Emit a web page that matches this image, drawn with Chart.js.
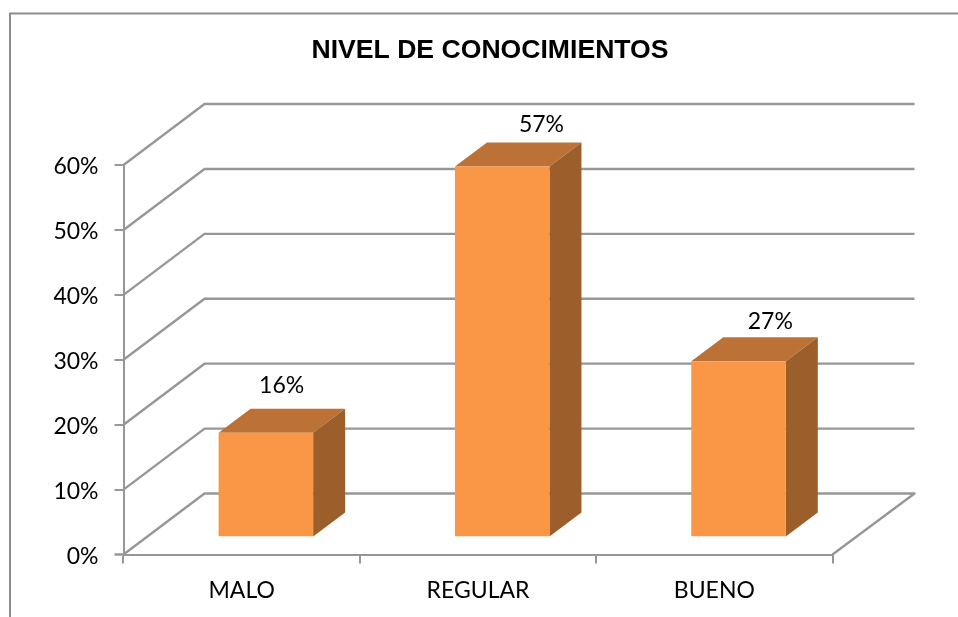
<!DOCTYPE html>
<html>
<head>
<meta charset="utf-8">
<style>
html,body{margin:0;padding:0;background:#fff;}
#wrap{position:relative;width:958px;height:617px;overflow:hidden;}
canvas{display:block;}
</style>
<script src="https://cdn.jsdelivr.net/npm/chart.js@4"></script>
</head>
<body>
<div id="wrap"><canvas id="c" width="958" height="617"></canvas></div>
<script>
const chartTitle = 'NIVEL DE CONOCIMIENTOS';
const categories = ['MALO', 'REGULAR', 'BUENO'];
const values = [16, 57, 27];
const axisMax = 60;
const axisStep = 10;

const GRID = '#979797', FRONT = '#F99746', TOP = '#BC7236', SIDE = '#9C5F2B';
const LABEL_FONT = '23px Lato, Carlito, sans-serif';
const WALL = {dx: 81, dy: -61};
const BAR_SHIFT = {dx: 24.2, dy: -18};
const BAR_DEPTH = {dx: 32, dy: -24};
const LABEL_SHIFT = [[40, -47], [63.5, -42], [56, -40]];
const TICK_LENGTH = 9;

const frame = {
  id: 'frame',
  beforeDraw(chart) {
    const c = chart.ctx;
    c.save();
    c.strokeStyle = '#8e8e8e';
    c.lineWidth = 2;
    c.beginPath();
    c.moveTo(10, chart.height);
    c.lineTo(10, 13.5);
    c.lineTo(chart.width, 13.5);
    c.stroke();
    c.restore();
  },
  afterLayout(chart) {
    chart.titleBlock.left = 22;
    chart.titleBlock.right = chart.width;
  }
};

const walls = {
  id: 'walls',
  beforeDatasetsDraw(chart) {
    const c = chart.ctx, y = chart.scales.y, a = chart.chartArea;
    c.save();
    c.strokeStyle = GRID;
    c.lineWidth = 2.4;
    c.lineJoin = 'round';
    for (let v = 0; v <= axisMax; v += axisStep) {
      const py = y.getPixelForValue(v);
      c.beginPath();
      if (v === 0) {
        c.moveTo(a.left - TICK_LENGTH, py);
      } else {
        c.moveTo(a.left, py);
      }
      if (v === 0) c.lineTo(a.left, py);
      c.lineTo(a.left + WALL.dx, py + WALL.dy);
      c.lineTo(a.right + WALL.dx + 1, py + WALL.dy);
      if (v === 0) c.lineTo(a.right, py);
      c.stroke();
    }
    c.restore();
  }
};

const bars3d = {
  id: 'bars3d',
  beforeDatasetsDraw(chart) {
    const c = chart.ctx;
    chart.getDatasetMeta(0).data.forEach(b => {
      const l = b.x - b.width / 2 + BAR_SHIFT.dx, r = b.x + b.width / 2 + BAR_SHIFT.dx;
      const t = b.y + BAR_SHIFT.dy, u = b.base + BAR_SHIFT.dy;
      const d = BAR_DEPTH;
      c.fillStyle = TOP;
      c.beginPath();
      c.moveTo(l, t); c.lineTo(l + d.dx, t + d.dy); c.lineTo(r + d.dx, t + d.dy); c.lineTo(r, t);
      c.closePath(); c.fill();
      c.fillStyle = SIDE;
      c.beginPath();
      c.moveTo(r, t); c.lineTo(r + d.dx, t + d.dy); c.lineTo(r + d.dx, u + d.dy); c.lineTo(r, u);
      c.closePath(); c.fill();
    });
    c.save();
    c.translate(BAR_SHIFT.dx, BAR_SHIFT.dy);
  },
  afterDatasetsDraw(chart) {
    const c = chart.ctx;
    c.restore();
    c.save();
    c.font = LABEL_FONT;
    c.fillStyle = '#000';
    c.textAlign = 'center';
    c.textBaseline = 'middle';
    chart.getDatasetMeta(0).data.forEach((b, i) => {
      c.fillText(values[i] + '%', b.x + LABEL_SHIFT[i][0], b.y + BAR_SHIFT.dy + LABEL_SHIFT[i][1]);
    });
    c.restore();
  }
};

new Chart(document.getElementById('c'), {
  type: 'bar',
  data: {
    labels: categories,
    datasets: [{
      data: values,
      backgroundColor: FRONT,
      borderWidth: 0,
      categoryPercentage: 1,
      barPercentage: 0.4
    }]
  },
  options: {
    responsive: false,
    animation: false,
    layout: {padding: {left: 0, right: 125.5, top: 0, bottom: 0}},
    plugins: {
      legend: {display: false},
      tooltip: {enabled: false},
      title: {
        display: true,
        text: chartTitle,
        color: '#000',
        font: {family: '"Liberation Sans", Arial, sans-serif', size: 26.6, weight: 'bold', lineHeight: 1.2},
        padding: {top: 34.4, bottom: 98.7}
      }
    },
    scales: {
      x: {
        afterFit(s) { s.height = 62.5; },
        grid: {offset: true, drawOnChartArea: false, drawTicks: true, tickLength: TICK_LENGTH, color: GRID, lineWidth: 2},
        border: {color: GRID, width: 2},
        ticks: {color: '#000', font: {family: 'Lato, Carlito, sans-serif', size: 23}, padding: 13, maxRotation: 0}
      },
      y: {
        min: 0,
        max: axisMax,
        afterFit(s) { s.width = 123.5; },
        grid: {
          drawOnChartArea: false,
          drawTicks: true,
          tickLength: TICK_LENGTH,
          color: GRID,
          lineWidth: ctx => (ctx.tick && ctx.tick.value === 0 ? 0 : 2)
        },
        border: {color: GRID, width: 2},
        ticks: {
          stepSize: axisStep,
          color: '#000',
          font: {family: 'Lato, Carlito, sans-serif', size: 23},
          padding: 16,
          labelOffset: 2,
          callback: v => v + '%'
        }
      }
    }
  },
  plugins: [frame, walls, bars3d]
});
</script>
</body>
</html>
